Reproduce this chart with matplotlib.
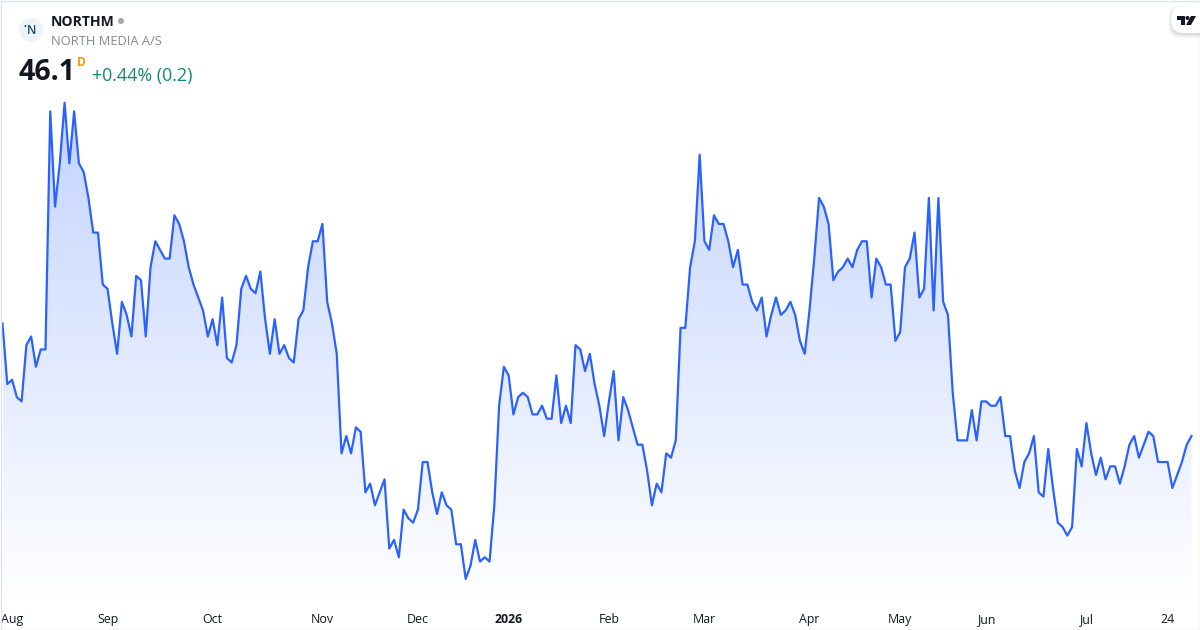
import numpy as np
import matplotlib
matplotlib.use("Agg")
import matplotlib.pyplot as plt
from matplotlib.patches import Circle, FancyBboxPatch, Polygon, Rectangle

# daily closes
closes = [
    48.7, 47.3, 47.4, 47.0, 46.9, 48.2, 48.4, 47.7, 48.1, 48.1,
    53.6, 51.4, 52.4, 53.8, 52.4, 53.6, 52.4, 52.2, 51.6, 50.8,
    50.8, 49.6, 49.5, 48.7, 48.0, 49.2, 48.9, 48.4, 49.8, 49.7,
    48.4, 50.0, 50.6, 50.4, 50.2, 50.2, 51.2, 51.0, 50.6, 50.0,
    49.6, 49.3, 49.0, 48.4, 48.8, 48.2, 49.3, 47.9, 47.8, 48.2,
    49.5, 49.8, 49.5, 49.4, 49.9, 48.8, 48.0, 48.8, 48.0, 48.2,
    47.9, 47.8, 48.8, 49.0, 50.0, 50.6, 50.6, 51.0, 49.2, 48.7,
    48.0, 45.7, 46.1, 45.7, 46.3, 46.2, 44.8, 45.0, 44.5, 44.8,
    45.1, 43.5, 43.7, 43.3, 44.4, 44.2, 44.1, 44.4, 45.5, 45.5,
    44.8, 44.3, 44.8, 44.5, 44.4, 43.6, 43.6, 42.8, 43.1, 43.7,
    43.2, 43.3, 43.2, 44.5, 46.8, 47.7, 47.5, 46.6, 47.0, 47.1,
    47.0, 46.6, 46.6, 46.8, 46.5, 46.5, 47.5, 46.4, 46.8, 46.4,
    48.2, 48.1, 47.6, 48.0, 47.3, 46.8, 46.1, 46.9, 47.6, 46.0,
    47.0, 46.7, 46.3, 45.9, 45.9, 45.3, 44.5, 45.0, 44.8, 45.7,
    45.6, 46.0, 48.6, 48.6, 50.0, 50.6, 52.6, 50.6, 50.4, 51.2,
    51.0, 51.0, 50.6, 50.0, 50.4, 49.6, 49.6, 49.2, 49.0, 49.3,
    48.4, 48.9, 49.3, 48.9, 49.0, 49.2, 48.9, 48.3, 48.0, 49.0,
    50.2, 51.6, 51.4, 51.0, 49.7, 49.9, 50.0, 50.2, 50.0, 50.4,
    50.6, 50.6, 49.3, 50.2, 50.0, 49.6, 49.6, 48.3, 48.5, 50.0,
    50.2, 50.8, 49.3, 49.5, 51.6, 49.0, 51.6, 49.2, 48.9, 47.1,
    46.0, 46.0, 46.0, 46.7, 46.0, 46.9, 46.9, 46.8, 46.8, 47.0,
    46.1, 46.1, 45.3, 44.9, 45.5, 45.7, 46.1, 44.8, 44.7, 45.8,
    44.9, 44.1, 44.0, 43.8, 44.0, 45.8, 45.4, 46.4, 45.7, 45.2,
    45.6, 45.1, 45.4, 45.4, 45.0, 45.4, 45.9, 46.1, 45.6, 45.9,
    46.2, 46.1, 45.5, 45.5, 45.5, 44.9, 45.2, 45.5, 45.9, 46.1,
]
tick_pos = [2, 22, 44, 67, 87, 106, 127, 147, 169, 188, 206, 227, 244]
tick_names = ["Aug", "Sep", "Oct", "Nov", "Dec", "2026", "Feb", "Mar", "Apr", "May", "Jun", "Jul", "24"]
symbol = "NORTHM"
company = "NORTH MEDIA A/S"
last_price = "46.1"
change_text = "+0.44% (0.2)"

plt.rcParams["font.family"] = ["Open Sans", "DejaVu Sans"]

fig = plt.figure(figsize=(12, 6.3), dpi=100, facecolor="white")

# chart axes, scale worked out from the pixel spacing in the reference
ax = fig.add_axes([0, 26 / 630, 1, 603 / 630])
xlims = (-2.5 / 4.775, 1197.5 / 4.775)
ylims = (42.22, 56.15)
for s in ax.spines.values():
    s.set_visible(False)
ax.set_yticks([])
ax.set_xticks(tick_pos)
ax.set_xticklabels(tick_names, fontsize=8.9, color="#131722", va="baseline")
ax.tick_params(axis="x", length=0, pad=13.5)
ax.get_xticklabels()[5].set_fontweight("bold")

x = np.arange(len(closes))
y = np.array(closes)

# gradient under the line, clipped to the area
grad = np.zeros((256, 1, 4))
grad[:, 0, 0] = 41 / 255
grad[:, 0, 1] = 98 / 255
grad[:, 0, 2] = 1.0
grad[:, 0, 3] = np.linspace(0.28, 0.0, 256)
ytop = y.max()
im = ax.imshow(grad, extent=[x[0], x[-1], ylims[0], ytop], aspect="auto", origin="upper", zorder=1)
area = ax.fill_between(x, y, ylims[0], facecolor="none", edgecolor="none")
im.set_clip_path(area.get_paths()[0], transform=ax.transData)
ax.set_xlim(*xlims)
ax.set_ylim(*ylims)
ax.plot(x, y, color="#2962ff", lw=1.6, zorder=3, solid_joinstyle="round")

# overlay in pixel coords for the header stuff
ov = fig.add_axes([0, 0, 1, 1], facecolor="none")
ov.set_xlim(0, 1200)
ov.set_ylim(630, 0)
ov.axis("off")

ov.add_patch(Rectangle((0.5, 0.5), 1199, 629, fill=False, ec="#e0e3eb", lw=1.0))

ov.add_patch(Circle((31, 30), 12, fc="#eef2f9", ec="none"))
ov.text(31.5, 31, "N", fontsize=8.6, color="#0f4c75", ha="center", va="center", fontweight="semibold")
ov.add_patch(Circle((25.5, 26), 1.0, fc="#0f4c75", ec="none"))

ov.text(51, 22, symbol, fontsize=10.1, fontweight="bold", color="#131722", va="center")
ov.add_patch(Circle((121, 21), 3, fc="#a6a8ae", ec="none"))
ov.text(51, 41.5, company, fontsize=9.3, color="#868993", va="center")
ov.text(18.5, 73, last_price, fontsize=20.5, fontweight="bold", color="#131722", va="center")
ov.text(77, 62, "D", fontsize=8.6, fontweight="bold", color="#ff9800", va="center")
ov.text(92, 76, change_text, fontsize=12.9, color="#0b8a72", va="center")

# tradingview badge, top right corner
for off, a in [(5, 0.02), (3.5, 0.03), (2, 0.04), (1, 0.05)]:
    ov.add_patch(FancyBboxPatch((1171 - off / 2, 6), 60 + off, 28 + off, boxstyle="round,pad=0,rounding_size=12",
                                fc="black", ec="none", alpha=a, clip_on=True))
ov.add_patch(FancyBboxPatch((1171, 6), 60, 27, boxstyle="round,pad=0,rounding_size=12", fc="white", ec="none"))
ov.add_patch(Polygon([(1177, 16), (1185, 16), (1185, 25), (1181, 25), (1181, 20), (1177, 20)], fc="#131722", ec="none"))
ov.add_patch(Circle((1187.5, 18), 2, fc="#131722", ec="none"))
ov.add_patch(Polygon([(1191, 16), (1196, 16), (1191, 25), (1186, 25)], fc="#131722", ec="none"))

fig.savefig("out.png", dpi=100, facecolor="white")
